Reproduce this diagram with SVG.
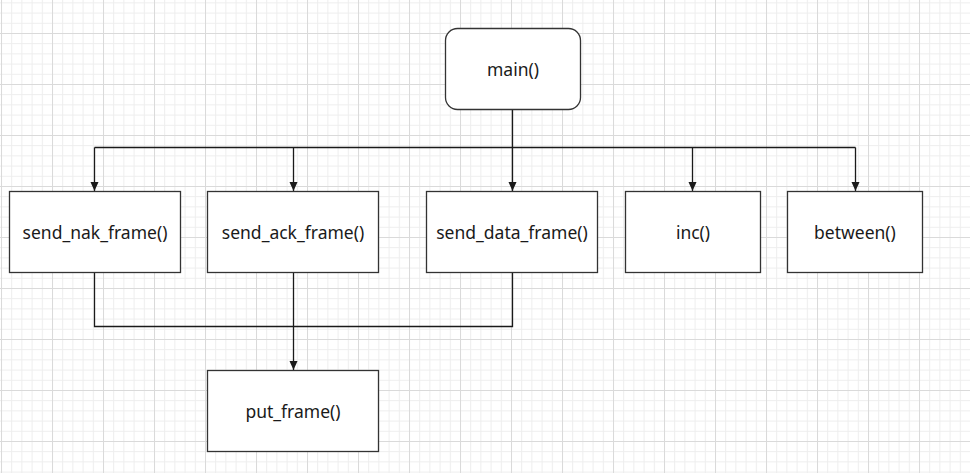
<svg xmlns="http://www.w3.org/2000/svg" width="970" height="473" viewBox="0 0 970 473">
<defs>
<pattern id="minor" width="10.2" height="10.2" patternUnits="userSpaceOnUse" x="1" y="33">
<path d="M0.5 0V10.2M0 0.5H10.2" fill="none" stroke="#ededed" stroke-width="1"/>
</pattern>
<pattern id="major" width="51" height="51" patternUnits="userSpaceOnUse" x="1" y="33">
<path d="M0.5 0V51M0 0.5H51" fill="none" stroke="#dadada" stroke-width="1"/>
</pattern>
<marker id="arr" markerWidth="10" markerHeight="10" refX="9" refY="5" orient="auto" markerUnits="userSpaceOnUse">
<path d="M0 1L9 5L0 9Z" fill="#1a1a1a"/>
</marker>
</defs>
<style>
.box{fill:#ffffff;stroke:#333333;stroke-width:1.3}
.lbl{font-family:"Noto Sans","Liberation Sans",sans-serif;font-size:17.5px;fill:#1a1a1a;text-anchor:middle;dominant-baseline:central}
.con{fill:none;stroke:#1a1a1a;stroke-width:1.3}
</style>
<rect width="970" height="473" fill="#ffffff"/>
<rect width="970" height="473" fill="url(#minor)"/>
<rect width="970" height="473" fill="url(#major)"/>
<g id="connectors">
<path class="con" d="M512.5 109V147.5"/>
<path class="con" d="M94.5 147.5H855.5"/>
<path class="con" d="M94.5 147.5V191" marker-end="url(#arr)"/>
<path class="con" d="M293.5 147.5V191" marker-end="url(#arr)"/>
<path class="con" d="M512.5 147.5V191" marker-end="url(#arr)"/>
<path class="con" d="M692.5 147.5V191" marker-end="url(#arr)"/>
<path class="con" d="M855.5 147.5V191" marker-end="url(#arr)"/>
<path class="con" d="M94.5 272V326.5H512.5V272"/>
<path class="con" d="M293.5 272V370" marker-end="url(#arr)"/>
</g>
<g id="main">
<rect class="box" x="445.5" y="28.5" width="135" height="81" rx="12"/>
<text class="lbl" x="513" y="69">main()</text>
</g>
<g id="send_nak_frame">
<rect class="box" x="9.5" y="191.5" width="171" height="81"/>
<text class="lbl" x="95" y="232">send_nak_frame()</text>
</g>
<g id="send_ack_frame">
<rect class="box" x="207.5" y="191.5" width="171" height="81"/>
<text class="lbl" x="293" y="232">send_ack_frame()</text>
</g>
<g id="send_data_frame">
<rect class="box" x="426.5" y="191.5" width="171" height="81"/>
<text class="lbl" x="512" y="232">send_data_frame()</text>
</g>
<g id="inc">
<rect class="box" x="625.5" y="191.5" width="135" height="81"/>
<text class="lbl" x="693" y="232">inc()</text>
</g>
<g id="between">
<rect class="box" x="787.5" y="191.5" width="135" height="81"/>
<text class="lbl" x="855" y="232">between()</text>
</g>
<g id="put_frame">
<rect class="box" x="207.5" y="370.5" width="171" height="81"/>
<text class="lbl" x="293" y="411">put_frame()</text>
</g>
</svg>
